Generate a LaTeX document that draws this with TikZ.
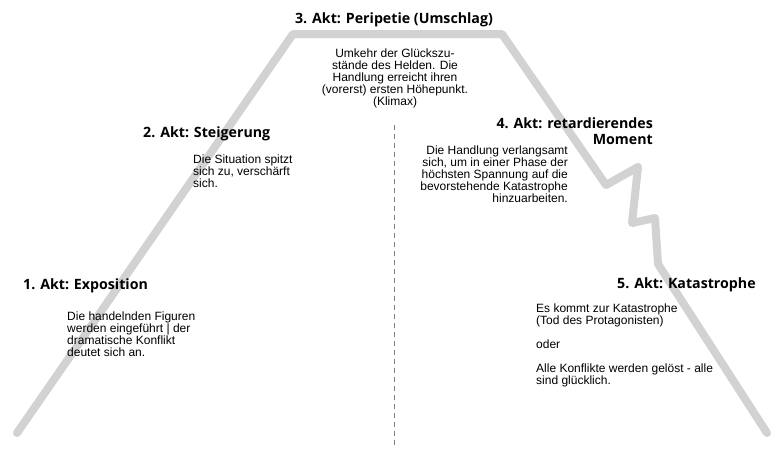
\documentclass[tikz,border=0pt]{standalone}
\usepackage{fontspec}
\setmainfont{Liberation Sans}
\newfontfamily\titlefont{Open Sans}
\definecolor{trackgray}{HTML}{D2D2D2}
\definecolor{dashgray}{HTML}{808080}
\begin{document}
\begin{tikzpicture}[x=1pt,y=-1pt,
  title/.style={font=\titlefont\bfseries\fontsize{14.2}{16}\selectfont, inner sep=0},
  body/.style={font=\fontsize{12}{12}\selectfont, inner sep=0},
  track/.style={draw=trackgray, line width=8pt, line cap=round, line join=round},
  divider/.style={draw=dashgray, line width=1pt, dash pattern=on 5pt off 4pt}
]
\useasboundingbox (0,0) rectangle (783,459);
% plot line
\draw[track] (17,433) -- (293,34) -- (502,34) -- (606,185) -- (638,167) -- (632,223) -- (655,218) -- (658,264) -- (767,433);
% divider
\draw[divider] (394,125) -- (394,448);
% act 3
\node[title, anchor=base] (t3) at (394,23) {3. Akt: Peripetie (Umschlag)};
\node[body, align=center, anchor=base] (b3) at (395,105) {Umkehr der Glückszu-\\stände des Helden. Die\\Handlung erreicht ihren\\(vorerst) ersten Höhepunkt.\\(Klimax)};
% act 2
\node[title, anchor=base west] (t2) at (143,137) {2. Akt: Steigerung};
\node[body, align=left, anchor=base west] (b2) at (193,187) {Die Situation spitzt\\sich zu, verschärft\\sich.};
% act 1
\node[title, anchor=base west] (t1) at (23,289) {1. Akt: Exposition};
\node[body, align=left, anchor=base west] (b1) at (67,356) {Die handelnden Figuren\\werden eingeführt | der\\dramatische Konflikt\\deutet sich an.};
% act 4
\node[title, align=right, anchor=base east] (t4) at (653,144) {4. Akt: retardierendes\\Moment};
\node[body, align=right, anchor=base east] (b4) at (568,202) {Die Handlung verlangsamt\\sich, um in einer Phase der\\höchsten Spannung auf die\\bevorstehende Katastrophe\\hinzuarbeiten.};
% act 5
\node[title, anchor=base west] (t5) at (617,288) {5. Akt: Katastrophe};
\node[body, align=left, anchor=base west] (b5) at (536,384) {Es kommt zur Katastrophe\\(Tod des Protagonisten)\\[12pt]oder\\[12pt]Alle Konflikte werden gelöst - alle\\sind glücklich.};
\end{tikzpicture}
\end{document}
